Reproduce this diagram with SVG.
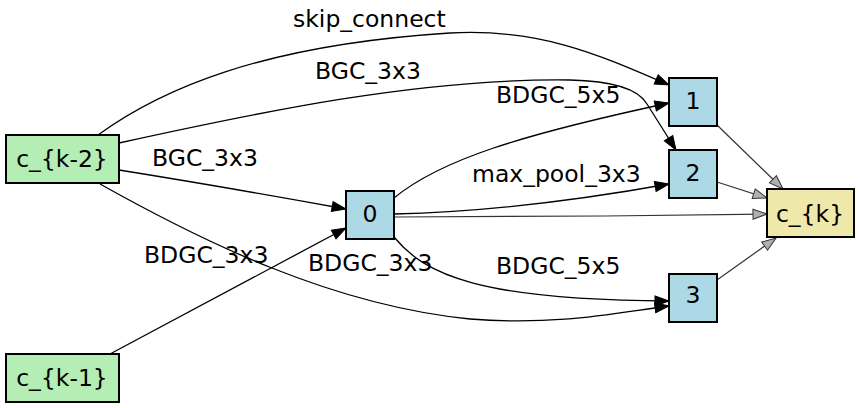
<svg xmlns="http://www.w3.org/2000/svg" width="860" height="408" viewBox="0 0 860 408">
<style>
.n rect{stroke:#000;stroke-width:2}
.in rect{fill:#b4eeb4}
.mid rect{fill:#add8e6}
.out rect{fill:#eee8aa}
text{font-family:"DejaVu Sans",sans-serif;font-size:23.5px;fill:#000}
.n text{text-anchor:middle}
.e{fill:none;stroke:#000;stroke-width:1.3}
.g{fill:none;stroke:#333;stroke-width:1.2}
</style>
<defs>
<marker id="a" markerUnits="userSpaceOnUse" markerWidth="16" markerHeight="12" refX="14" refY="5" orient="auto" overflow="visible">
<path d="M0,0 L14,5 L0,10 z" fill="#000" stroke="#000" stroke-width="1"/>
</marker>
<marker id="ag" markerUnits="userSpaceOnUse" markerWidth="16" markerHeight="12" refX="14" refY="5" orient="auto" overflow="visible">
<path d="M0,0 L14,5 L0,10 z" fill="#b0b0b0" stroke="#333" stroke-width="1"/>
</marker>
</defs>
<rect width="860" height="408" fill="#fff"/>
<g id="connectors">
<path class="e" marker-end="url(#a)" d="M98,135 C160,90 260,45 450,33 C540,28 600,55 669,85"/>
<path class="e" marker-end="url(#a)" d="M119,143 C260,112 420,78 570,80 C620,81 640,92 647,104 L676,150"/>
<path class="e" marker-end="url(#a)" d="M119,170 C200,183 280,197 346,209"/>
<path class="e" marker-end="url(#a)" d="M110,354 L346,228"/>
<path class="e" marker-end="url(#a)" d="M100,184 C200,240 330,305 470,319 C560,326 620,312 669,306"/>
<path class="e" marker-end="url(#a)" d="M394,198 C440,160 520,135 669,103"/>
<path class="e" marker-end="url(#a)" d="M394,214 C480,212 580,200 669,184"/>
<path class="e" marker-end="url(#a)" d="M394,237 C425,275 480,300 669,301"/>
<path class="g" marker-end="url(#ag)" d="M394,217 C500,217 650,216 767,214"/>
<path class="g" marker-end="url(#ag)" d="M717,125 L783,189"/>
<path class="g" marker-end="url(#ag)" d="M717,182 L767,198"/>
<path class="g" marker-end="url(#ag)" d="M717,280 L776,238"/>
<text x="293" y="27">skip_connect</text>
<text x="315" y="79">BGC_3x3</text>
<text x="496" y="103">BDGC_5x5</text>
<text x="152" y="166">BGC_3x3</text>
<text x="472" y="182">max_pool_3x3</text>
<text x="144" y="263">BDGC_3x3</text>
<text x="308" y="271">BDGC_3x3</text>
<text x="496" y="274">BDGC_5x5</text>
</g>
<g id="node-ck2" class="n in"><rect x="6" y="135" width="113" height="48"/><text x="62" y="167">c_{k-2}</text></g>
<g id="node-ck1" class="n in"><rect x="6" y="354" width="113" height="48"/><text x="62" y="386">c_{k-1}</text></g>
<g id="node-0" class="n mid"><rect x="346" y="191" width="48" height="48"/><text x="370" y="222">0</text></g>
<g id="node-1" class="n mid"><rect x="669" y="78" width="48" height="48"/><text x="693" y="109">1</text></g>
<g id="node-2" class="n mid"><rect x="669" y="150" width="48" height="48"/><text x="693" y="181">2</text></g>
<g id="node-3" class="n mid"><rect x="669" y="274" width="48" height="48"/><text x="693" y="303">3</text></g>
<g id="node-ck" class="n out"><rect x="767" y="189" width="87" height="48"/><text x="810" y="222">c_{k}</text></g>
</svg>
